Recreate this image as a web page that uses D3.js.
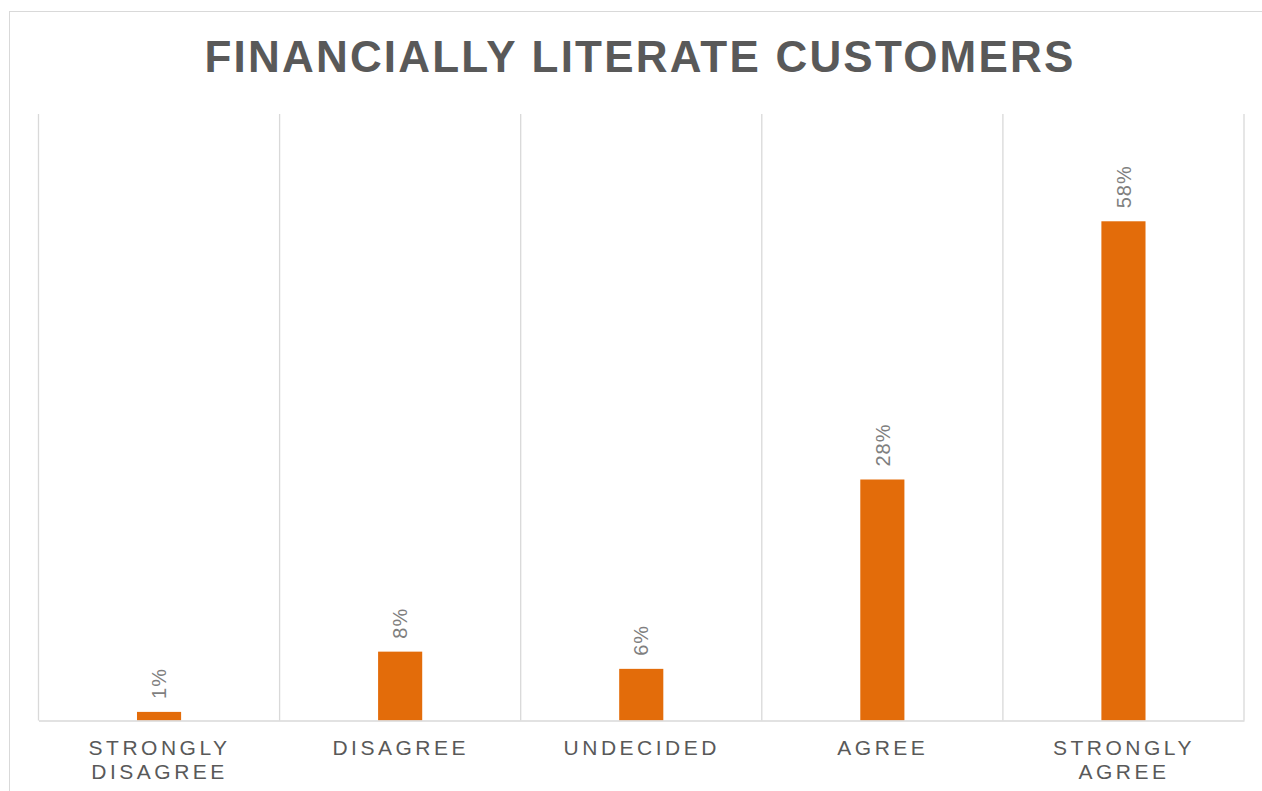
<!DOCTYPE html>
<html>
<head>
<meta charset="utf-8">
<script src="https://cdn.jsdelivr.net/npm/d3@7"></script>
<style>
  html, body { margin: 0; padding: 0; background: #fff; }
  svg { display: block; }
</style>
</head>
<body>
<svg id="chart" width="1262" height="791"></svg>
<script>
// Survey answers and their shares
const categories = ["STRONGLY DISAGREE", "DISAGREE", "UNDECIDED", "AGREE", "STRONGLY AGREE"];
const categoryLines = [["STRONGLY", "DISAGREE"], ["DISAGREE"], ["UNDECIDED"], ["AGREE"], ["STRONGLY", "AGREE"]];
const shares = [0.01, 0.08, 0.06, 0.28, 0.58];
const shareLabels = ["1%", "8%", "6%", "28%", "58%"];
const chartTitle = "FINANCIALLY LITERATE CUSTOMERS";

const svg = d3.select("#chart");
const W = 1262, H = 791;
const plotTop = 114;
const margin = { left: 38.5, right: 1262 - 1244, top: 118, bottom: 791 - 720.5 };

const textColor = "#595959";
const gridColor = "#d9d9d9";
const barColor = "#E36C0A";

// outer chart frame
svg.append("rect")
  .attr("x", 9.5).attr("y", 11.5)
  .attr("width", W + 20).attr("height", H + 20)
  .attr("fill", "none").attr("stroke", gridColor).attr("stroke-width", 1);

// title
svg.append("text")
  .attr("x", 640).attr("y", 72)
  .attr("text-anchor", "middle")
  .attr("font-family", "Liberation Sans, Arial, sans-serif")
  .attr("font-weight", "bold")
  .attr("font-size", 44)
  .attr("letter-spacing", "2.2px")
  .attr("fill", textColor)
  .text(chartTitle);

const x = d3.scaleBand()
  .domain(categories)
  .range([margin.left, W - margin.right])
  .padding(0);

const y = d3.scaleLinear()
  .domain([0, 0.7])
  .range([H - margin.bottom, margin.top]);

// vertical separators at band edges
const edges = categories.map(c => x(c)).concat([x(categories[categories.length - 1]) + x.bandwidth()]);
svg.append("g").selectAll("line")
  .data(edges)
  .join("line")
  .attr("x1", d => d).attr("x2", d => d)
  .attr("y1", plotTop).attr("y2", y(0))
  .attr("stroke", gridColor).attr("stroke-width", 1.3);

// bars
const barW = x.bandwidth() * 0.183;
svg.append("g").selectAll("rect")
  .data(categories)
  .join("rect")
  .attr("x", (c) => x(c) + x.bandwidth() / 2 - barW / 2)
  .attr("width", barW)
  .attr("y", (c, i) => y(shares[i]))
  .attr("height", (c, i) => y(0) - y(shares[i]))
  .attr("fill", barColor);

// baseline axis
const xAxis = d3.axisBottom(x).tickSize(0).tickFormat("");
const axisG = svg.append("g")
  .attr("transform", `translate(0,${y(0)})`)
  .call(xAxis);
axisG.select(".domain").attr("stroke", gridColor).attr("stroke-width", 1.6);

// category labels, wrapped over two lines where needed
const catG = svg.append("g")
  .attr("font-family", "Liberation Sans, Arial, sans-serif")
  .attr("font-size", 21)
  .attr("letter-spacing", "3.5px")
  .attr("fill", textColor)
  .attr("text-anchor", "middle");
categories.forEach((c, i) => {
  const cx = x(c) + x.bandwidth() / 2 + 0.5;
  const t = catG.append("text")
    .attr("x", cx)
    .attr("y", 755);
  categoryLines[i].forEach((line, j) => {
    t.append("tspan")
      .attr("x", cx)
      .attr("dy", j === 0 ? 0 : 24)
      .text(line);
  });
});

// rotated value labels above each bar
svg.append("g")
  .attr("font-family", "Liberation Sans, Arial, sans-serif")
  .attr("font-size", 20)
  .attr("letter-spacing", "1px")
  .attr("fill", "#7f7f7f")
  .selectAll("text")
  .data(categories)
  .join("text")
  .attr("transform", (c, i) => `translate(${x(c) + x.bandwidth() / 2},${y(shares[i]) - 13}) rotate(-90)`)
  .attr("dy", "0.36em")
  .attr("text-anchor", "start")
  .text((c, i) => shareLabels[i]);
</script>
</body>
</html>
